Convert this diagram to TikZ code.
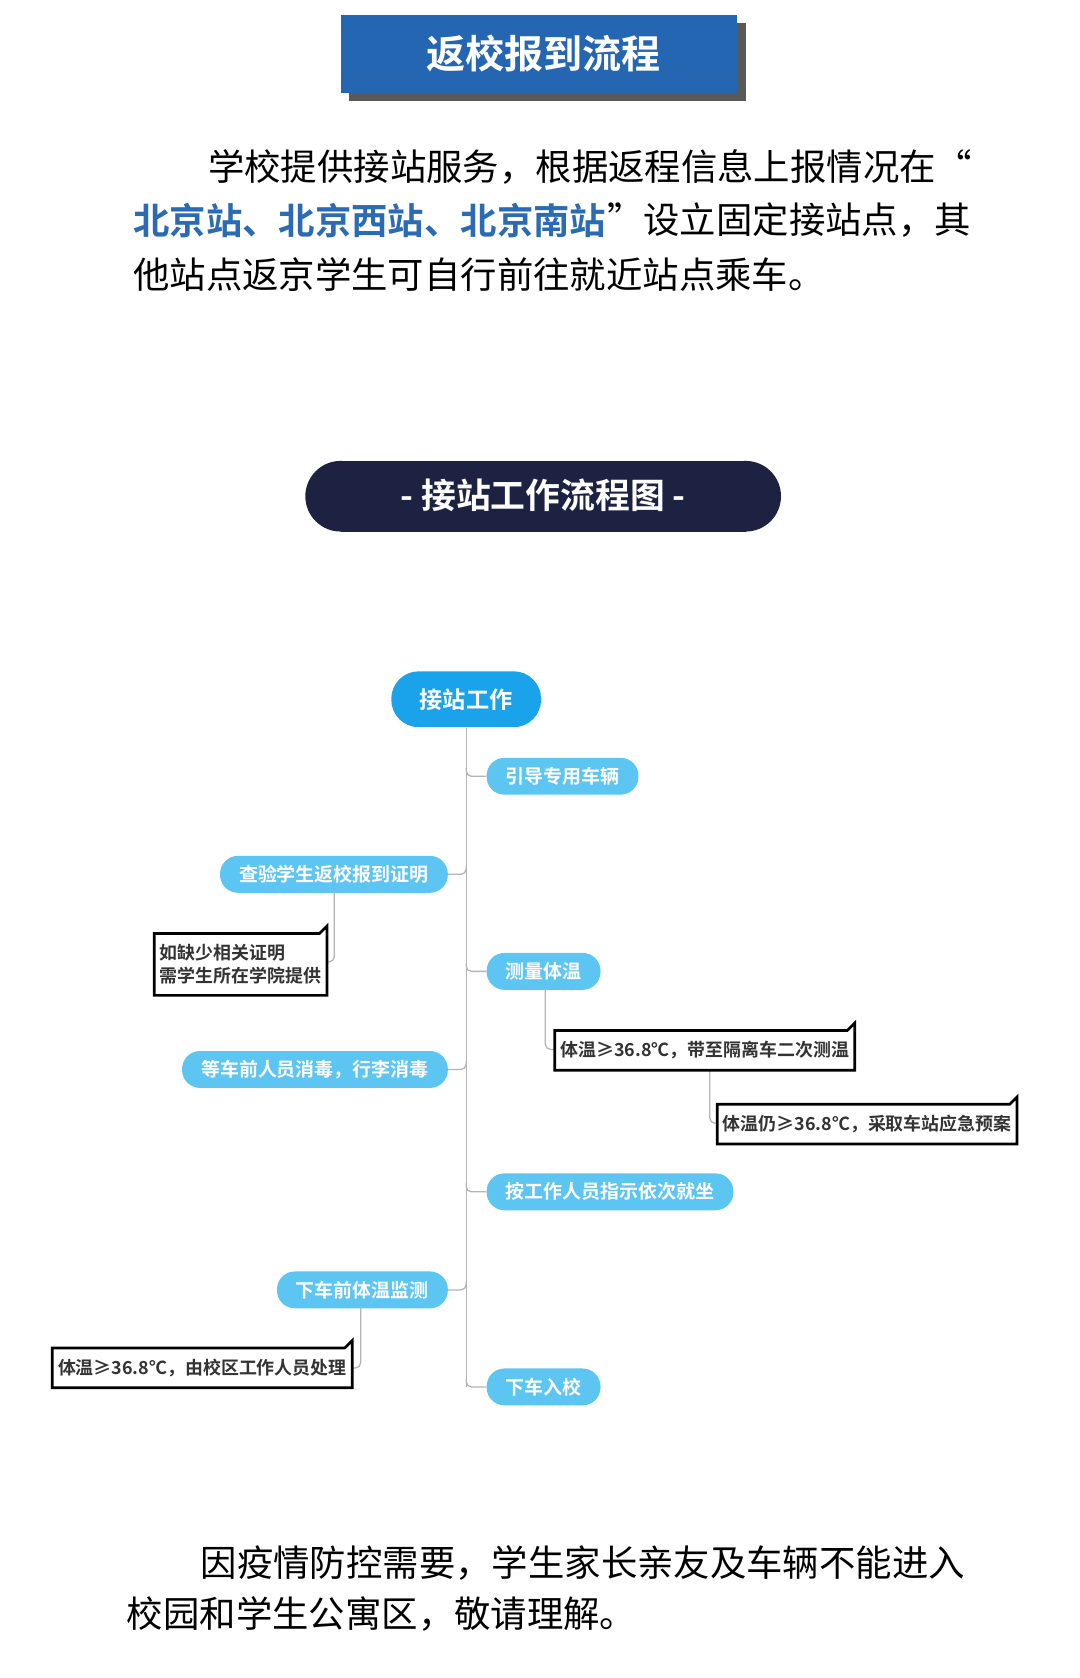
\documentclass[tikz,border=0pt]{standalone}
\usepackage{fontspec}
\setmainfont{Noto Sans CJK SC}
\newfontfamily\cjkb{Noto Sans CJK SC}[BoldFont={* Bold}]
\usetikzlibrary{positioning}

\definecolor{titleblue}{HTML}{2566B2}
\definecolor{navy}{HTML}{1E2242}
\definecolor{rootblue}{HTML}{1AA3EA}
\definecolor{leafblue}{HTML}{5CC5F2}
\definecolor{textblue}{HTML}{2A6BB4}
\definecolor{linegray}{HTML}{B4B4B4}

\tikzset{every picture/.style={line width=0.75pt}}
\tikzset{
  bodytext/.style={anchor=west,inner sep=0pt,font=\fontsize{34.5}{40}\selectfont},
  rootpill/.style={fill=rootblue,text=white,rounded corners=26pt,minimum width=142pt,minimum height=53pt,font=\fontsize{22}{24}\selectfont\bfseries},
  leafpill/.style={fill=leafblue,text=white,rounded corners=17pt,minimum height=35pt,inner xsep=18pt,font=\fontsize{18}{20}\selectfont\bfseries},
  notebox/.style={fill=white,text=black!80,align=left,inner sep=5pt,font=\fontsize{17}{22}\selectfont\bfseries},
  branch/.style={draw=linegray,line width=1.2pt,rounded corners=5pt},
}
\newcommand{\notecut}[1]{%
  \draw[line width=2.6pt] (#1.south west) -- (#1.north west) -- ([xshift=-7pt]#1.north east)
    -- ([yshift=-7pt]#1.north east) -- (#1.south east) -- cycle;}

\begin{document}
\begin{tikzpicture}[x=1pt,y=1pt,yscale=-1,xscale=1]
  \useasboundingbox[fill=white] (0,0) rectangle (1024,1591);
  \cjkb

  %Title box
  \fill[gray!70!black] (331,22) rectangle (707,96);
  \fill[titleblue] (323,14) rectangle (699,88);
  \node[text=white,font=\fontsize{37}{40}\selectfont\bfseries] (title) at (515,51) {返校报到流程};

  % Text Node
  \node[bodytext] (para1) at (197,158) {学校提供接站服务，根据返程信息上报情况在“};
  \node[bodytext,text=textblue,font=\fontsize{34.5}{40}\selectfont\bfseries] (para2a) at (126,209) {北京站、北京西站、北京南站};
  \node[bodytext,right=0pt of para2a] (para2b) {”设立固定接站点，其};
  \node[bodytext] (para3) at (126,260) {他站点返京学生可自行前往就近站点乘车。};

  %Dark pill
  \fill[navy] (323,437) rectangle (707,504);
  \fill[navy] (323,470.5) circle (33.5);
  \fill[navy] (707,470.5) circle (33.5);
  \node[text=white,font=\fontsize{33}{36}\selectfont\bfseries] (subtitle) at (515,470) {- 接站工作流程图 -};

  %Spine
  \node[rootpill] (root) at (442,663) {接站工作};
  \coordinate (spineend) at (442,1315);
  \draw[draw=linegray,line width=1.2pt] (root.south) -- (spineend);

  % Branch nodes
  \node[leafpill,anchor=west] (lead) at (461,736) {引导专用车辆};
  \node[leafpill,anchor=east] (check) at (425,829) {查验学生返校报到证明};
  \node[leafpill,anchor=west] (temp) at (461,921) {测量体温};
  \node[leafpill,anchor=east] (clean) at (425,1014) {等车前人员消毒，行李消毒};
  \node[leafpill,anchor=west] (seat) at (461,1130) {按工作人员指示依次就坐};
  \node[leafpill,anchor=east] (recheck) at (425,1223) {下车前体温监测};
  \node[leafpill,anchor=west] (enter) at (461,1315) {下车入校};

  \foreach \leaf in {lead,temp,seat,enter}
    \draw[branch] (442,0 |- \leaf.west) ++(0,-8) |- (\leaf.west);
  \foreach \leaf in {check,clean,recheck}
    \draw[branch] (442,0 |- \leaf.east) ++(0,-8) |- (\leaf.east);

  % Notes
  \coordinate (checkdrop) at (317,846);
  \coordinate (tempdrop) at (517,938);
  \coordinate (feverdrop) at (673,1014);
  \coordinate (recheckdrop) at (342,1240);
  \draw[branch] (checkdrop) |- (310,912);
  \draw[branch] (tempdrop) |- (526,995);
  \draw[branch] (feverdrop) |- (680,1065);
  \draw[branch] (recheckdrop) |- (334,1297);

  \node[notebox,anchor=north east,minimum height=58pt] (missing) at (310,885) {如缺少相关证明\\需学生所在学院提供};
  \notecut{missing}
  \node[notebox,anchor=north west,minimum height=37pt] (fever) at (526,977) {体温≥36.8℃，带至隔离车二次测温};
  \notecut{fever}
  \node[notebox,anchor=north west,minimum height=37pt] (stillfever) at (680,1047) {体温仍≥36.8℃，采取车站应急预案};
  \notecut{stillfever}
  \node[notebox,anchor=north east,minimum height=37pt] (campusfever) at (334,1278) {体温≥36.8℃，由校区工作人员处理};
  \notecut{campusfever}

  % Text Node
  \node[bodytext] (para4) at (190,1482) {因疫情防控需要，学生家长亲友及车辆不能进入};
  \node[bodytext] (para5) at (120,1530) {校园和学生公寓区，敬请理解。};
\end{tikzpicture}
\end{document}
